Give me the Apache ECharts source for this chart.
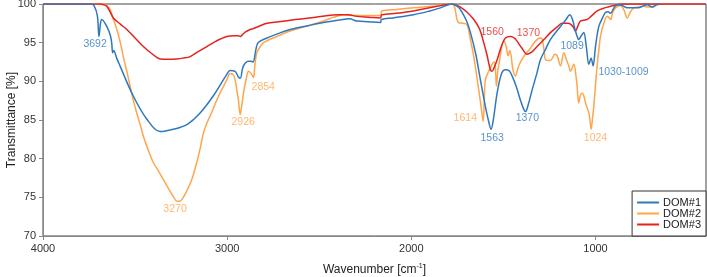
<!DOCTYPE html>
<html>
<head>
<meta charset="utf-8">
<script src="https://cdn.jsdelivr.net/npm/echarts@6/dist/echarts.min.js"></script>
<style>
  html, body { margin: 0; padding: 0; background: #fff; }
  #main { width: 707px; height: 277px; }
</style>
</head>
<body>
<div id="main"></div>
<script>
// spectra: wavenumber [cm-1] and transmittance [%]
let dom1Wn = [4000, 3740, 3723, 3705, 3696, 3688, 3681, 3654, 3635, 3627, 3622, 3616, 3600, 3582, 3510, 3436, 3364, 3293, 3219, 3147, 3076, 3002, 2984, 2957, 2940, 2929, 2915, 2900, 2884, 2870, 2859, 2845, 2832, 2784, 2720, 2658, 2560, 2478, 2400, 2332, 2310, 2296, 2230, 2168, 2162, 2100, 1989, 1900, 1842, 1779, 1750, 1734, 1700, 1679, 1650, 1625, 1600, 1580, 1567, 1555, 1534, 1510, 1489, 1470, 1453, 1430, 1408, 1390, 1380, 1365, 1344, 1320, 1299, 1270, 1245, 1190, 1160, 1140, 1125, 1109, 1095, 1091, 1080, 1064, 1050, 1036, 1024, 1013, 1000, 982, 960, 946, 932, 918, 900, 882, 855, 828, 800, 773, 745, 719, 692, 670, 656];
let dom1T = [100, 100, 99.8, 98.5, 95.8, 97.5, 98.0, 97.1, 96.0, 95.0, 93.7, 94.0, 93.0, 92.0, 88.1, 85.1, 83.5, 83.8, 84.4, 85.9, 88.1, 90.9, 91.4, 91.3, 90.6, 90.4, 91.8, 92.4, 92.6, 92.6, 92.5, 94.0, 95.0, 95.6, 96.2, 96.7, 97.2, 97.6, 97.9, 98.1, 97.9, 97.8, 97.7, 97.6, 98.0, 98.2, 98.6, 99.1, 99.5, 100, 99.7, 99.3, 97.8, 96.3, 93.5, 90.2, 87.0, 84.8, 83.8, 85.0, 88.5, 91.0, 91.5, 91.4, 90.7, 89.3, 87.6, 86.4, 86.1, 87.0, 88.9, 90.9, 92.8, 94.2, 95.4, 97.1, 98.0, 98.6, 98.0, 96.5, 95.5, 95.4, 95.8, 96.3, 94.5, 92.2, 93.0, 92.0, 94.5, 97.1, 98.3, 98.9, 99.0, 98.8, 99.5, 99.9, 99.8, 99.5, 99.5, 99.5, 99.7, 99.9, 99.6, 99.9, 100];

let dom2Wn = [4000, 3672, 3650, 3636, 3620, 3599, 3580, 3564, 3545, 3527, 3510, 3491, 3470, 3455, 3430, 3401, 3373, 3346, 3320, 3292, 3273, 3260, 3246, 3220, 3192, 3165, 3145, 3129, 3110, 3080, 3056, 3030, 3002, 2984, 2968, 2957, 2945, 2939, 2929, 2920, 2911, 2895, 2884, 2870, 2857, 2850, 2839, 2820, 2803, 2730, 2658, 2560, 2477, 2420, 2368, 2300, 2230, 2168, 2160, 2080, 1987, 1842, 1779, 1765, 1752, 1743, 1720, 1697, 1680, 1661, 1634, 1620, 1610, 1604, 1598, 1580, 1562, 1550, 1542, 1538, 1530, 1526, 1498, 1485, 1475, 1465, 1448, 1435, 1420, 1405, 1390, 1370, 1353, 1326, 1300, 1290, 1278, 1272, 1245, 1220, 1208, 1190, 1172, 1158, 1145, 1136, 1118, 1105, 1100, 1091, 1082, 1072, 1062, 1054, 1036, 1030, 1024, 1015, 1009, 1000, 991, 982, 973, 955, 936, 925, 918, 905, 891, 864, 845, 828, 810, 792, 765, 737, 715, 692, 675, 656];
let dom2T = [100, 100, 99.7, 99.3, 98.2, 96.7, 95.0, 93.2, 91.3, 89.4, 87.6, 85.9, 84.2, 82.9, 81.2, 79.5, 78.4, 77.3, 76.2, 75.1, 74.5, 74.5, 74.7, 75.8, 77.3, 79.5, 81.5, 83.3, 84.6, 86.2, 87.6, 88.9, 90.2, 91.0, 90.9, 90.2, 88.5, 87.6, 85.7, 87.0, 88.5, 90.5, 91.3, 91.0, 90.5, 92.0, 93.7, 94.5, 95.0, 95.8, 96.5, 97.2, 97.8, 98.3, 98.6, 98.5, 98.5, 98.5, 99.1, 99.3, 99.5, 99.8, 100, 99.6, 98.0, 97.6, 97.5, 97.3, 95.5, 93.2, 88.9, 86.5, 84.8, 87.5, 90.2, 91.3, 92.2, 92.5, 91.0, 89.4, 91.5, 92.0, 95.2, 94.5, 93.3, 94.0, 91.5, 90.7, 91.8, 92.6, 93.2, 93.8, 94.3, 95.2, 95.6, 95.5, 93.8, 92.8, 92.7, 93.5, 93.3, 92.0, 93.7, 92.8, 92.0, 91.3, 92.2, 90.5, 89.4, 87.2, 88.2, 88.5, 88.0, 87.2, 85.9, 85.0, 83.8, 85.5, 86.8, 89.5, 92.0, 94.0, 95.8, 97.5, 98.4, 98.2, 98.0, 99.0, 99.5, 99.8, 99.2, 98.2, 99.0, 99.5, 99.6, 99.7, 99.6, 99.6, 99.8, 99.9];

let dom3Wn = [4000, 3690, 3670, 3654, 3636, 3618, 3580, 3545, 3500, 3455, 3410, 3364, 3320, 3273, 3240, 3201, 3160, 3110, 3060, 3002, 2960, 2940, 2929, 2915, 2900, 2875, 2860, 2830, 2784, 2720, 2658, 2520, 2386, 2340, 2296, 2230, 2168, 2160, 2080, 1989, 1880, 1779, 1734, 1700, 1661, 1630, 1607, 1590, 1571, 1562, 1550, 1534, 1510, 1489, 1462, 1440, 1426, 1400, 1371, 1345, 1317, 1280, 1245, 1210, 1181, 1150, 1136, 1120, 1109, 1095, 1082, 1065, 1045, 1020, 991, 950, 918, 882, 860, 400];
let dom3T = [100, 100, 99.9, 99.7, 99.0, 98.2, 97.4, 96.7, 95.6, 94.5, 93.6, 92.9, 92.85, 92.9, 93.0, 93.2, 93.8, 94.5, 95.2, 95.8, 95.9, 95.9, 95.8, 96.1, 96.4, 96.7, 96.8, 97.1, 97.5, 97.7, 97.9, 98.3, 98.6, 98.6, 98.4, 98.3, 98.2, 98.6, 98.8, 99.1, 99.6, 100, 99.6, 99.0, 98.0, 96.8, 95.0, 93.5, 91.5, 91.3, 91.8, 92.8, 94.6, 95.6, 95.8, 95.6, 95.2, 94.3, 93.5, 93.8, 94.5, 95.4, 96.3, 97.0, 97.5, 97.5, 97.4, 97.0, 96.5, 97.2, 97.8, 97.9, 98.0, 98.5, 99.1, 99.5, 99.7, 99.9, 100, 100];

// peak annotations: text, anchor wavenumber, anchor transmittance, series
let peakText = ['3692', '3270', '2926', '2854', '1614', '1563', '1560', '1370', '1370', '1089', '1030-1009', '1024'];
let peakWn   = [3717, 3283, 2913, 2804, 1707, 1561, 1561, 1364, 1370, 1127, 848, 1000];
let peakT    = [94.8, 73.5, 84.7, 89.2, 85.3, 82.7, 96.4, 96.3, 85.2, 94.5, 91.2, 82.7];
let peakSer  = [0, 1, 1, 1, 1, 0, 2, 2, 0, 0, 0, 1];

let xTicks = [4000, 3000, 2000, 1000];
let colors = ['#2f78bd', '#ffa54c', '#e2231f'];
let names = ['DOM#1', 'DOM#2', 'DOM#3'];

function zip(a, b) {
    return a.map((v, i) => [v, b[i]]);
}

let chart = echarts.init(document.getElementById('main'), null, { renderer: 'canvas' });

let lineSeries = [zip(dom1Wn, dom1T), zip(dom2Wn, dom2T), zip(dom3Wn, dom3T)].map((d, i) => ({
    name: names[i],
    type: 'line',
    data: d,
    smooth: 0.35,
    showSymbol: false,
    symbol: 'none',
    z: i === 2 ? 3 : (i === 0 ? 4 : 2),
    lineStyle: { color: colors[i], width: 1.5 },
    itemStyle: { color: colors[i] }
}));

let labelSeries = {
    type: 'scatter',
    silent: true,
    symbolSize: 0,
    z: 10,
    data: peakText.map((t, i) => ({
        value: [peakWn[i], peakT[i]],
        name: t,
        label: { color: colors[peakSer[i]] }
    })),
    label: {
        show: true,
        position: 'inside',
        formatter: p => p.name,
        fontSize: 10.5,
        fontFamily: 'Liberation Sans'
    }
};

let option = {
    backgroundColor: '#fff',
    animation: false,
    textStyle: { fontFamily: 'Liberation Sans' },
    grid: {
        left: 43, right: 1, top: 4, bottom: 41,
        outerBoundsMode: 'none',
        containLabel: false,
        show: true, borderColor: '#444', borderWidth: 1
    },
    legend: {
        data: names,
        orient: 'vertical',
        right: 1, bottom: 41,
        backgroundColor: '#fff',
        borderColor: '#333',
        borderWidth: 1,
        borderRadius: 0,
        padding: [6, 5, 6, 5],
        itemGap: 0,
        itemWidth: 22,
        itemHeight: 2,
        icon: 'rect',
        textStyle: { fontSize: 11, color: '#222', lineHeight: 10, padding: [0, 0, 0, -1] }
    },
    xAxis: {
        type: 'value',
        inverse: true,
        min: 400,
        max: 4000,
        name: '{a|Wavenumber [cm}{s|-1}{a|]}',
        nameLocation: 'middle',
        nameGap: 27,
        nameMoveOverlap: false,
        nameTextStyle: {
            rich: {
                a: { fontSize: 12, color: '#222', fontFamily: 'Liberation Sans' },
                s: { fontSize: 7, color: '#222', fontFamily: 'Liberation Sans', padding: [0, 0, 7, 0] }
            }
        },
        axisLine: { lineStyle: { color: '#888' } },
        axisTick: { length: 4, lineStyle: { color: '#888' }, customValues: xTicks },
        axisLabel: { fontSize: 11, color: '#333', margin: 7, customValues: xTicks, formatter: v => String(v) },
        splitLine: { show: false }
    },
    yAxis: {
        type: 'value',
        min: 70,
        max: 100,
        interval: 5,
        name: 'Transmittance [%]',
        nameLocation: 'middle',
        nameGap: 25,
        nameMoveOverlap: false,
        nameTextStyle: { fontSize: 12, color: '#222' },
        axisLine: { show: true, lineStyle: { color: '#888' } },
        axisTick: { show: true, length: 4, lineStyle: { color: '#888' } },
        axisLabel: { fontSize: 11, color: '#333', margin: 7 },
        splitLine: { show: false }
    },
    series: lineSeries.concat([labelSeries])
};

chart.setOption(option);
</script>
</body>
</html>
